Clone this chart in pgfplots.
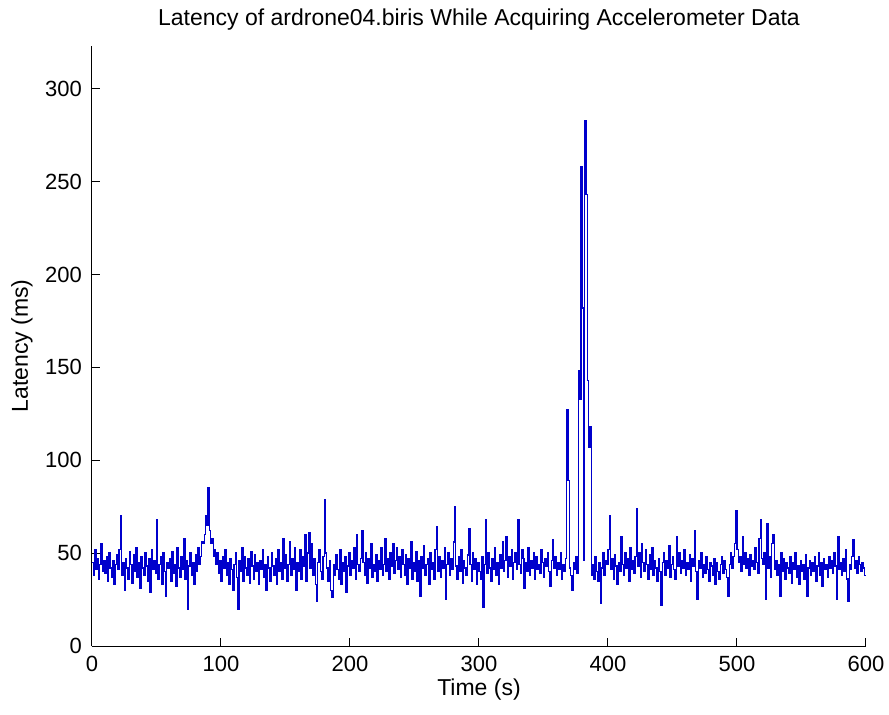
\documentclass[border=0pt]{standalone}
\usepackage{fontspec}
\setmainfont{Liberation Sans}
\usepackage{pgfplots}
\pgfplotsset{compat=1.18}
\definecolor{mlblue}{rgb}{0,0,0.8}

\begin{document}
\begin{tikzpicture}
\begin{axis}[
    at={(0,0)}, anchor=origin,
    scale only axis,
    width=387pt, height=300pt,
    xmin=0, xmax=600, ymin=0, ymax=323,
    xtick={0,100,...,600},
    ytick={0,50,...,300},
    axis x line*=bottom, axis y line*=left,
    every non boxed x axis/.append style={x axis line style=-},
    every non boxed y axis/.append style={y axis line style=-},
    axis line style={-, black, line width=0.5pt},
    tick align=inside,
    major tick length=4pt,
    tick style={black, line width=0.5pt},
    /pgf/number format/assume math mode=true,
    tick label style={font=\fontsize{11}{13}\selectfont},
    xticklabel style={yshift=-1.5pt},
    yticklabel style={xshift=-1.5pt},
    title={Latency of ardrone04.biris While Acquiring Accelerometer Data},
    every axis title/.style={at={(axis description cs:0.5,1)}, yshift=13pt, anchor=center, font=\fontsize{11.5}{14}\selectfont},
    xlabel={Time (s)},
    ylabel={Latency (ms)},
    every axis x label/.style={at={(axis description cs:0.5,0)}, yshift=-22pt, anchor=center, font=\fontsize{11.5}{14}\selectfont},
    every axis y label/.style={at={(axis description cs:0,0.5)}, xshift=-35pt, rotate=90, anchor=center, font=\fontsize{11.5}{14}\selectfont},
]
% latency samples, one per second
\addplot[const plot, mlblue, line width=0.65pt] coordinates {
(0,45) (1,38) (2,52) (3,41) (4,47) (5,36) (6,44) (7,55) (8,40) (9,46)
(10,39) (11,48) (12,35) (13,50) (14,42) (15,37) (16,46) (17,33) (18,44) (19,49)
(20,41) (21,52) (22,70) (23,38) (24,45) (25,30) (26,47) (27,42) (28,36) (29,51)
(30,44) (31,34) (32,49) (33,40) (34,53) (35,37) (36,45) (37,31) (38,48) (39,42)
(40,38) (41,50) (42,43) (43,35) (44,47) (45,29) (46,52) (47,41) (48,46) (49,39)
(50,68) (51,36) (52,44) (53,48) (54,33) (55,50) (56,40) (57,27) (58,45) (59,42)
(60,47) (61,35) (62,51) (63,39) (64,44) (65,32) (66,53) (67,42) (68,37) (69,48)
(70,41) (71,58) (72,36) (73,46) (74,20) (75,43) (76,50) (77,38) (78,45) (79,33)
(80,49) (81,40) (82,53) (83,44) (84,48) (85,56) (86,55) (87,60) (88,70) (89,65)
(90,85) (91,62) (92,55) (93,58) (94,48) (95,52) (96,44) (97,50) (98,39) (99,46)
(100,35) (101,48) (102,42) (103,52) (104,38) (105,45) (106,33) (107,47) (108,41) (109,30)
(110,44) (111,50) (112,37) (113,20) (114,46) (115,40) (116,53) (117,35) (118,48) (119,42)
(120,38) (121,47) (122,34) (123,51) (124,43) (125,36) (126,49) (127,40) (128,45) (129,33)
(130,46) (131,41) (132,52) (133,37) (134,44) (135,30) (136,48) (137,42) (138,35) (139,50)
(140,43) (141,38) (142,47) (143,33) (144,52) (145,40) (146,45) (147,36) (148,58) (149,42)
(150,49) (151,35) (152,44) (153,56) (154,38) (155,47) (156,41) (157,53) (158,30) (159,45)
(160,40) (161,52) (162,36) (163,48) (164,43) (165,60) (166,35) (167,50) (168,61) (169,42)
(170,55) (171,38) (172,47) (173,33) (174,24) (175,45) (176,52) (177,40) (178,36) (179,48)
(180,79) (181,50) (182,42) (183,35) (184,46) (185,30) (186,26) (187,44) (188,38) (189,49)
(190,41) (191,36) (192,52) (193,33) (194,45) (195,40) (196,48) (197,29) (198,43) (199,50)
(200,38) (201,46) (202,42) (203,53) (204,36) (205,60) (206,44) (207,40) (208,47) (209,62)
(210,45) (211,38) (212,50) (213,34) (214,47) (215,42) (216,55) (217,37) (218,44) (219,40)
(220,49) (221,35) (222,46) (223,41) (224,53) (225,38) (226,44) (227,58) (228,40) (229,47)
(230,36) (231,50) (232,43) (233,55) (234,39) (235,46) (236,53) (237,41) (238,48) (239,37)
(240,52) (241,44) (242,38) (243,49) (244,33) (245,47) (246,42) (247,56) (248,36) (249,45)
(250,40) (251,51) (252,35) (253,46) (254,27) (255,48) (256,42) (257,54) (258,38) (259,44)
(260,47) (261,33) (262,50) (263,41) (264,45) (265,36) (266,52) (267,64) (268,40) (269,48)
(270,37) (271,46) (272,42) (273,53) (274,25) (275,44) (276,50) (277,38) (278,47) (279,41)
(280,56) (281,75) (282,43) (283,36) (284,48) (285,40) (286,52) (287,34) (288,46) (289,42)
(290,38) (291,49) (292,63) (293,44) (294,35) (295,50) (296,41) (297,47) (298,33) (299,45)
(300,40) (301,36) (302,48) (303,21) (304,44) (305,68) (306,39) (307,50) (308,42) (309,35)
(310,47) (311,41) (312,53) (313,38) (314,45) (315,33) (316,49) (317,42) (318,56) (319,40)
(320,46) (321,59) (322,37) (323,48) (324,43) (325,52) (326,36) (327,45) (328,50) (329,41)
(330,68) (331,44) (332,39) (333,52) (334,47) (335,31) (336,45) (337,40) (338,53) (339,38)
(340,46) (341,42) (342,50) (343,36) (344,48) (345,41) (346,44) (347,39) (348,52) (349,45)
(350,37) (351,47) (352,43) (353,50) (354,40) (355,32) (356,46) (357,57) (358,42) (359,48)
(360,38) (361,45) (362,41) (363,50) (364,36) (365,44) (366,40) (367,47) (368,127) (369,89)
(370,42) (371,38) (372,30) (373,45) (374,41) (375,48) (376,39) (377,148) (378,133) (379,258)
(380,182) (381,46) (382,283) (383,243) (384,143) (385,107) (386,118) (387,38) (388,44) (389,36)
(390,48) (391,40) (392,35) (393,45) (394,23) (395,42) (396,50) (397,38) (398,46) (399,44)
(400,52) (401,70) (402,41) (403,47) (404,36) (405,49) (406,43) (407,33) (408,45) (409,40)
(410,59) (411,44) (412,38) (413,50) (414,42) (415,47) (416,35) (417,53) (418,41) (419,46)
(420,39) (421,48) (422,74) (423,43) (424,50) (425,37) (426,55) (427,45) (428,40) (429,52)
(430,44) (431,36) (432,49) (433,41) (434,53) (435,38) (436,46) (437,42) (438,35) (439,47)
(440,40) (441,22) (442,45) (443,50) (444,38) (445,46) (446,42) (447,54) (448,37) (449,44)
(450,48) (451,41) (452,36) (453,59) (454,43) (455,50) (456,39) (457,46) (458,42) (459,52)
(460,38) (461,45) (462,41) (463,49) (464,35) (465,47) (466,43) (467,62) (468,40) (469,25)
(470,46) (471,42) (472,50) (473,37) (474,44) (475,39) (476,48) (477,41) (478,35) (479,45)
(480,43) (481,38) (482,47) (483,33) (484,45) (485,40) (486,36) (487,44) (488,48) (489,39)
(490,46) (491,41) (492,37) (493,27) (494,44) (495,50) (496,42) (497,48) (498,55) (499,73)
(500,52) (501,45) (502,48) (503,40) (504,59) (505,44) (506,50) (507,42) (508,47) (509,38)
(510,49) (511,43) (512,46) (513,41) (514,53) (515,45) (516,39) (517,58) (518,68) (519,47)
(520,44) (521,50) (522,25) (523,66) (524,42) (525,48) (526,37) (527,55) (528,60) (529,41)
(530,46) (531,38) (532,44) (533,27) (534,50) (535,40) (536,47) (537,36) (538,45) (539,42)
(540,39) (541,48) (542,34) (543,45) (544,41) (545,50) (546,37) (547,43) (548,33) (549,46)
(550,40) (551,44) (552,36) (553,49) (554,27) (555,42) (556,46) (557,38) (558,45) (559,40)
(560,48) (561,35) (562,43) (563,50) (564,38) (565,45) (566,32) (567,47) (568,41) (569,44)
(570,37) (571,48) (572,42) (573,46) (574,39) (575,50) (576,43) (577,25) (578,59) (579,41)
(580,45) (581,38) (582,47) (583,40) (584,52) (585,36) (586,24) (587,44) (588,41) (589,48)
(590,57) (591,42) (592,46) (593,39) (594,48) (595,44) (596,40) (597,45) (598,42) (599,38)
(600,38)
};
\end{axis}
\pgfresetboundingbox
\path[use as bounding box] (-46pt,-34pt) rectangle (398.5pt,323pt);
\end{tikzpicture}
\end{document}
